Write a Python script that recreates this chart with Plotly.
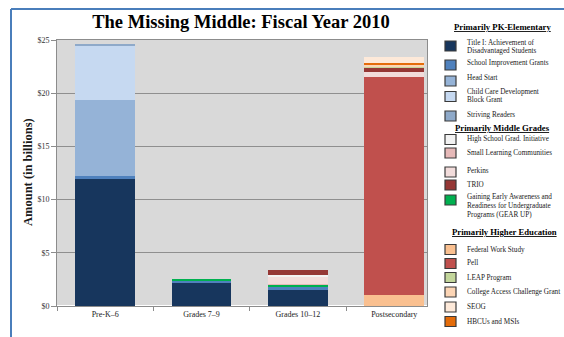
import plotly.graph_objects as go

# ---------------- data ----------------
categories = ["Pre-K\u20136", "Grades 7\u20139", "Grades 10\u201312", "Postsecondary"]

title_i          = [11.90, 2.25, 1.55, 0.00]
school_improve   = [0.28, 0.12, 0.25, 0.00]
head_start       = [7.22, 0.00, 0.00, 0.00]
child_care       = [5.00, 0.00, 0.00, 0.00]
striving_readers = [0.20, 0.00, 0.00, 0.00]
gear_up          = [0.00, 0.20, 0.25, 0.00]
work_study       = [0.00, 0.00, 0.00, 1.05]
pell             = [0.00, 0.00, 0.00, 20.50]
small_learning   = [0.00, 0.00, 0.05, 0.00]
perkins          = [0.00, 0.00, 0.69, 0.47]
hs_grad          = [0.00, 0.00, 0.16, 0.00]
trio             = [0.00, 0.00, 0.47, 0.38]
leap             = [0.00, 0.00, 0.00, 0.05]
college_access   = [0.00, 0.00, 0.00, 0.20]
hbcu_msi         = [0.00, 0.00, 0.00, 0.16]
seog             = [0.00, 0.00, 0.00, 0.60]

y_tick_values = [0, 5, 10, 15, 20, 25]
y_tick_labels = ["$0", "$5", "$10", "$15", "$20", "$25"]

group_titles = ["Primarily PK-Elementary", "Primarily Middle Grades", "Primarily Higher Education"]

# ---------------- styles ----------------
COLORS = {
    "Title I": "#17365D",
    "SIG": "#4F81BD",
    "Head Start": "#95B3D7",
    "Child Care": "#C6D9F1",
    "Striving": "#8EA9C9",
    "GEAR UP": "#00B050",
    "FWS": "#FAC090",
    "Pell": "#C0504D",
    "SLC": "#E6B9B8",
    "Perkins": "#F2DCDB",
    "HSGI": "#F2F2F2",
    "TRIO": "#953735",
    "LEAP": "#C3D69B",
    "CACG": "#FCD5B5",
    "HBCU": "#E46C0A",
    "SEOG": "#FDE9D9",
}

# stacking order (bottom to top)
stack = [
    ("Title I", title_i), ("SIG", school_improve), ("Head Start", head_start),
    ("Child Care", child_care), ("Striving", striving_readers), ("GEAR UP", gear_up),
    ("FWS", work_study), ("Pell", pell), ("SLC", small_learning), ("Perkins", perkins),
    ("HSGI", hs_grad), ("TRIO", trio), ("LEAP", leap), ("CACG", college_access),
    ("HBCU", hbcu_msi), ("SEOG", seog),
]

W, H = 564, 337
L, R, T, B = 57, 137, 40, 31
PW, PH = W - L - R, H - T - B


def px2x(px):
    return (px - L) / PW


def py2y(py):
    return (H - B - py) / PH


SERIF = "Liberation Serif, Times New Roman, serif"
TXT = "#1a1a1a"

fig = go.Figure()
for key, vals in stack:
    fig.add_trace(go.Bar(
        x=categories, y=vals, name=key, showlegend=False,
        marker=dict(color=COLORS[key], line=dict(width=0)),
    ))

fig.update_layout(
    width=W, height=H, barmode="stack", bargap=0.38,
    margin=dict(l=L, r=R, t=T, b=B),
    paper_bgcolor="white", plot_bgcolor="#D9D9D9",
    font=dict(family=SERIF, color=TXT),
    title=dict(text="<b>The Missing Middle: Fiscal Year 2010</b>",
               x=241 / W, xanchor="center", xref="container",
               y=1 - 22 / H, yanchor="middle", yref="container",
               font=dict(family=SERIF, size=18.5, color="#000")),
    xaxis=dict(range=[-0.5, 3.34], tickson="boundaries", ticks="outside", ticklen=4,
               tickcolor="#8c8c8c", showline=True, linecolor="#8c8c8c", mirror=True,
               tickfont=dict(family=SERIF, size=8, color=TXT), showgrid=False),
    yaxis=dict(range=[0, 25], tickvals=y_tick_values, ticktext=y_tick_labels,
               ticks="outside", ticklen=5, tickcolor="#8c8c8c",
               showline=True, linecolor="#8c8c8c", mirror=True,
               gridcolor="#8f8f8f", gridwidth=1,
               tickfont=dict(family=SERIF, size=8, color="#333")),
)

annotations = []
shapes = []

# y-axis title
annotations.append(dict(
    text="<b>Amount (in billions)</b>", xref="paper", yref="paper",
    x=px2x(28), y=py2y(172), textangle=-90, showarrow=False,
    xanchor="center", yanchor="middle",
    font=dict(family=SERIF, size=12.5, color=TXT)))

# blue frame
shapes.append(dict(type="line", xref="paper", yref="paper",
                   x0=px2x(11), x1=px2x(11), y0=py2y(345), y1=py2y(9),
                   line=dict(color="#4A7EBB", width=2)))
shapes.append(dict(type="line", xref="paper", yref="paper",
                   x0=px2x(11), x1=px2x(580), y0=py2y(9), y1=py2y(9),
                   line=dict(color="#4A7EBB", width=2)))

# ---------------- manual legend ----------------
legend_headers = [(group_titles[0], 502, 27), (group_titles[1], 503, 128), (group_titles[2], 504, 232)]
legend_items = [
    ("Title I", 46, [("Title I: Achievement of", 42.5), ("Disadvantaged Students", 51)]),
    ("SIG", 65, [("School Improvement Grants", 62.5)]),
    ("Head Start", 81, [("Head Start", 77.5)]),
    ("Child Care", 96.5, [("Child Care Development", 92), ("Block Grant", 100.5)]),
    ("Striving", 116, [("Striving Readers", 114.5)]),
    ("HSGI", 139.5, [("High School Grad. Initiative", 139)]),
    ("SLC", 153, [("Small Learning Communities", 152.5)]),
    ("Perkins", 172, [("Perkins", 171)]),
    ("TRIO", 185, [("TRIO", 185)]),
    ("GEAR UP", 200, [("Gaining Early Awareness and", 196.5), ("Readiness for Undergraduate", 205.5),
                      ("Programs (GEAR UP)", 214.5)]),
    ("FWS", 249.5, [("Federal Work Study", 249.5)]),
    ("Pell", 263.5, [("Pell", 263)]),
    ("LEAP", 277.5, [("LEAP Program", 277.5)]),
    ("CACG", 292, [("College Access Challenge Grant", 292)]),
    ("SEOG", 307, [("SEOG", 306.5)]),
    ("HBCU", 321.5, [("HBCUs and MSIs", 321.5)]),
]

for text, cx, cy in legend_headers:
    annotations.append(dict(
        text="<b><u>%s</u></b>" % text, xref="paper", yref="paper",
        x=px2x(cx), y=py2y(cy), showarrow=False, xanchor="center", yanchor="middle",
        font=dict(family=SERIF, size=8.7, color="#000")))

for key, by, lines in legend_items:
    shapes.append(dict(type="rect", xref="paper", yref="paper",
                       x0=px2x(445), x1=px2x(456), y0=py2y(by + 5), y1=py2y(by - 5),
                       fillcolor=COLORS[key], line=dict(color="#3a3a3a", width=1.2)))
    for t, ly in lines:
        annotations.append(dict(
            text=t, xref="paper", yref="paper", x=px2x(465), y=py2y(ly),
            showarrow=False, xanchor="left", yanchor="middle",
            font=dict(family=SERIF, size=7.2, color=TXT)))

fig.update_layout(annotations=annotations, shapes=shapes)
fig.write_html("out.html")
